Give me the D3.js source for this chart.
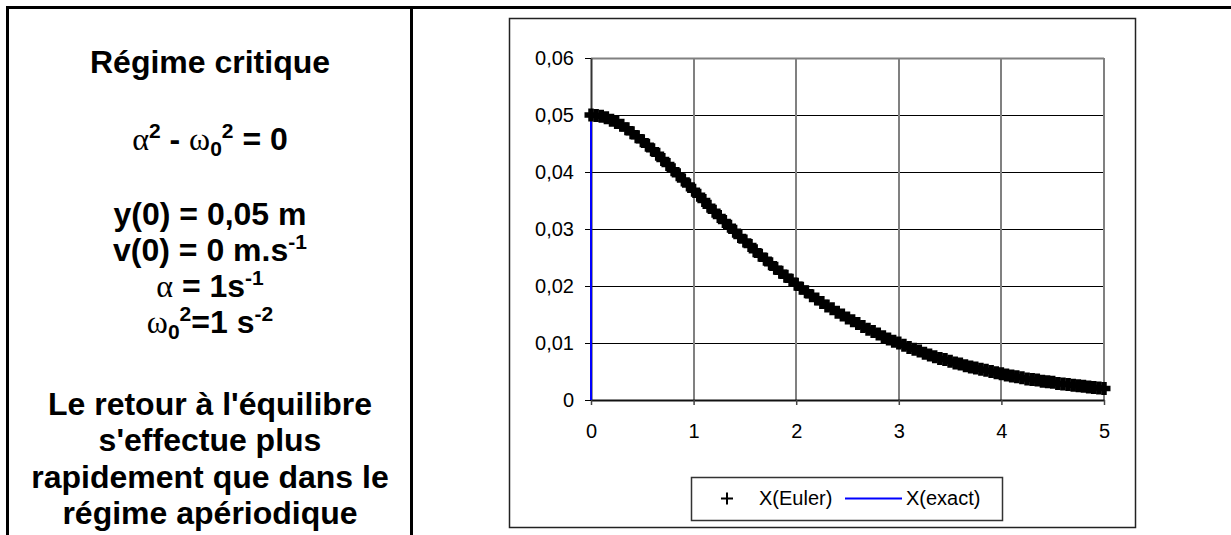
<!DOCTYPE html>
<html>
<head>
<meta charset="utf-8">
<script src="https://cdn.jsdelivr.net/npm/d3@7"></script>
<style>
  body { margin: 0; background: #fff; }
  svg { display: block; }
  text { white-space: pre; }
</style>
</head>
<body>
<div id="chart"></div>
<script>
// t (s) of the Euler points
var eulerTimes = [0, 0.05, 0.1, 0.15, 0.2, 0.25, 0.3, 0.35, 0.4, 0.45, 0.5, 0.55, 0.6, 0.65, 0.7, 0.75, 0.8, 0.85, 0.9, 0.95,
  1, 1.05, 1.1, 1.15, 1.2, 1.25, 1.3, 1.35, 1.4, 1.45, 1.5, 1.55, 1.6, 1.65, 1.7, 1.75, 1.8, 1.85, 1.9, 1.95,
  2, 2.05, 2.1, 2.15, 2.2, 2.25, 2.3, 2.35, 2.4, 2.45, 2.5, 2.55, 2.6, 2.65, 2.7, 2.75, 2.8, 2.85, 2.9, 2.95,
  3, 3.05, 3.1, 3.15, 3.2, 3.25, 3.3, 3.35, 3.4, 3.45, 3.5, 3.55, 3.6, 3.65, 3.7, 3.75, 3.8, 3.85, 3.9, 3.95,
  4, 4.05, 4.1, 4.15, 4.2, 4.25, 4.3, 4.35, 4.4, 4.45, 4.5, 4.55, 4.6, 4.65, 4.7, 4.75, 4.8, 4.85, 4.9, 4.95, 5];
// X(Euler) in m
var eulerValues = [0.0500, 0.0499, 0.0498, 0.0495, 0.0491, 0.0487, 0.0482, 0.0476, 0.0469, 0.0462,
  0.0455, 0.0447, 0.0439, 0.0431, 0.0422, 0.0413, 0.0404, 0.0395, 0.0386, 0.0377,
  0.0368, 0.0359, 0.0350, 0.0340, 0.0331, 0.0322, 0.0313, 0.0305, 0.0296, 0.0287,
  0.0279, 0.0271, 0.0262, 0.0254, 0.0247, 0.0239, 0.0231, 0.0224, 0.0217, 0.0210,
  0.0203, 0.0196, 0.0190, 0.0183, 0.0177, 0.0171, 0.0165, 0.0160, 0.0154, 0.0149,
  0.0144, 0.0139, 0.0134, 0.0129, 0.0124, 0.0120, 0.0116, 0.0111, 0.0107, 0.0103,
  0.0100, 0.0096, 0.0092, 0.0089, 0.0086, 0.0082, 0.0079, 0.0076, 0.0073, 0.0071,
  0.0068, 0.0065, 0.0063, 0.0060, 0.0058, 0.0056, 0.0054, 0.0052, 0.0050, 0.0048,
  0.0046, 0.0044, 0.0042, 0.0041, 0.0039, 0.0037, 0.0036, 0.0035, 0.0033, 0.0032,
  0.0031, 0.0029, 0.0028, 0.0027, 0.0026, 0.0025, 0.0024, 0.0023, 0.0022, 0.0021, 0.0020];

// X(exact) - starts from 0 at t=0 (vertical blue segment)
var exactTimes = [0, 0, 0.25, 0.5, 0.75, 1, 1.25, 1.5, 1.75, 2, 2.25, 2.5, 2.75, 3, 3.25, 3.5, 3.75, 4, 4.25, 4.5, 4.75, 5];
var exactValues = [0, 0.05, 0.0487, 0.0455, 0.0413, 0.0368, 0.0322, 0.0279, 0.0239, 0.0203, 0.0171,
  0.0144, 0.0120, 0.0100, 0.0082, 0.0068, 0.0056, 0.0046, 0.0037, 0.0031, 0.0025, 0.0020];

var xTicks = [0, 1, 2, 3, 4, 5];
var yTicks = [0, 0.01, 0.02, 0.03, 0.04, 0.05, 0.06];
var yTickLabels = ["0", "0,01", "0,02", "0,03", "0,04", "0,05", "0,06"];
var seriesNames = ["X(Euler)", "X(exact)"];

// left cell text, parts: g = greek (symbol font), sup / sub
var noteLines = [
  [{t: "Régime critique"}],
  [{t: "α", g: 1}, {t: "2", sup: 1}, {t: " - "}, {t: "ω", g: 1}, {t: "0", sub: 1}, {t: "2", sup: 1}, {t: " = 0"}],
  [{t: "y(0) = 0,05 m"}],
  [{t: "v(0) = 0 m.s"}, {t: "-1", sup: 1}],
  [{t: "α", g: 1}, {t: " = 1s"}, {t: "-1", sup: 1}],
  [{t: "ω", g: 1}, {t: "0", sub: 1}, {t: "2", sup: 1}, {t: "=1 s"}, {t: "-2", sup: 1}],
  [{t: "Le retour à l'équilibre"}],
  [{t: "s'effectue plus"}],
  [{t: "rapidement que dans le"}],
  [{t: "régime apériodique"}]
];
var noteBaselines = [73, 150, 225, 261, 297, 333, 415, 451, 488, 524];

function init() {
  var w = 1231;
  var h = 535;
  var sans = "'Liberation Sans', Arial, sans-serif";
  var serif = "'Liberation Serif', 'Times New Roman', serif";

  var svg = d3.select("#chart")
    .append("svg")
    .attr("width", w)
    .attr("height", h);

  // table frame
  svg.append("path")
    .attr("d", "M7.5,535 V7.5 H1231 M411.5,7.5 V535")
    .attr("fill", "none")
    .attr("stroke", "#000")
    .attr("stroke-width", 3);

  // left cell text
  var notes = svg.append("g");
  noteLines.forEach(function(parts, i) {
    var txt = notes.append("text")
      .attr("x", 210)
      .attr("y", noteBaselines[i])
      .attr("text-anchor", "middle")
      .attr("fill", "#000");
    var shift = 0;
    parts.forEach(function(p) {
      var target = p.sup ? -12 : (p.sub ? 6 : 0);
      txt.append("tspan")
        .attr("dy", target - shift)
        .attr("font-family", p.g ? serif : sans)
        .attr("font-weight", p.g ? "normal" : "bold")
        .attr("font-size", (p.sup || p.sub) ? 21 : 32)
        .text(p.t);
      shift = target;
    });
  });

  // chart frame
  svg.append("rect")
    .attr("x", 509.5)
    .attr("y", 18.5)
    .attr("width", 626)
    .attr("height", 509)
    .attr("fill", "#fff")
    .attr("stroke", "#222")
    .attr("stroke-width", 1.5);

  var xScale = d3.scaleLinear()
    .domain([0, 5])
    .range([591, 1104]);
  var yScale = d3.scaleLinear()
    .domain([0, 0.06])
    .range([400, 58]);

  // horizontal grid
  svg.append("g")
    .selectAll("line")
    .data(yTicks.slice(1))
    .enter()
    .append("line")
    .attr("x1", xScale(0))
    .attr("x2", xScale(5))
    .attr("y1", function(d) { return Math.round(yScale(d)) + 0.5; })
    .attr("y2", function(d) { return Math.round(yScale(d)) + 0.5; })
    .attr("stroke", function(d) { return d == 0.06 ? "#808080" : "#000"; })
    .attr("stroke-width", function(d) { return d == 0.06 ? 2 : 1; });

  // vertical grid
  svg.append("g")
    .selectAll("line")
    .data(xTicks.slice(1))
    .enter()
    .append("line")
    .attr("x1", function(d) { return Math.round(xScale(d)); })
    .attr("x2", function(d) { return Math.round(xScale(d)); })
    .attr("y1", yScale(0))
    .attr("y2", yScale(0.06))
    .attr("stroke", "#808080")
    .attr("stroke-width", 2);

  var xAxis = d3.axisBottom(xScale)
    .tickValues(xTicks)
    .tickFormat(d3.format("d"))
    .tickSizeInner(5)
    .tickSizeOuter(0)
    .tickPadding(19);
  var yAxis = d3.axisLeft(yScale)
    .tickValues(yTicks)
    .tickFormat(function(d, i) { return yTickLabels[i]; })
    .tickSizeInner(6)
    .tickSizeOuter(0)
    .tickPadding(11);

  var gx = svg.append("g")
    .attr("transform", "translate(0," + yScale(0) + ")")
    .call(xAxis);
  var gy = svg.append("g")
    .attr("transform", "translate(" + xScale(0) + ",0)")
    .call(yAxis);

  gx.select(".domain").attr("stroke", "#111").attr("stroke-width", 2);
  gy.select(".domain").attr("stroke", "#333").attr("stroke-width", 2);
  gx.selectAll(".tick line").attr("stroke", "#444").attr("stroke-width", 1.5);
  gy.selectAll(".tick line").attr("stroke", "#000");
  [gx, gy].forEach(function(g) {
    g.selectAll("text")
      .attr("font-family", sans)
      .attr("font-size", 20)
      .attr("fill", "#000");
  });

  // exact solution
  var exactLine = d3.line()
    .x(function(d, i) { return xScale(exactTimes[i]); })
    .y(function(d) { return yScale(d); });
  svg.append("path")
    .datum(exactValues)
    .attr("d", exactLine)
    .attr("fill", "none")
    .attr("stroke", "#0000ff")
    .attr("stroke-width", 2);

  // Euler markers
  var arm = 6.5;
  svg.append("g")
    .selectAll("path")
    .data(eulerValues)
    .enter()
    .append("path")
    .attr("d", function(d, i) {
      var cx = xScale(eulerTimes[i]);
      var cy = yScale(d);
      return "M" + (cx - arm) + "," + cy + "H" + (cx + arm) +
        "M" + cx + "," + (cy - arm) + "V" + (cy + arm);
    })
    .attr("stroke", "#000")
    .attr("stroke-width", 5.5)
    .attr("fill", "none");

  // legend
  var legend = svg.append("g");
  legend.append("rect")
    .attr("x", 691.5)
    .attr("y", 477.5)
    .attr("width", 311)
    .attr("height", 43)
    .attr("fill", "#fff")
    .attr("stroke", "#333")
    .attr("stroke-width", 1.5);
  legend.append("path")
    .attr("d", "M721,498.5H733M727,492.5V504.5")
    .attr("stroke", "#000")
    .attr("stroke-width", 2);
  legend.append("text")
    .attr("x", 759)
    .attr("y", 505)
    .attr("font-family", sans)
    .attr("font-size", 20)
    .text(seriesNames[0]);
  legend.append("line")
    .attr("x1", 845)
    .attr("x2", 902)
    .attr("y1", 498.5)
    .attr("y2", 498.5)
    .attr("stroke", "#0000ff")
    .attr("stroke-width", 2);
  legend.append("text")
    .attr("x", 906)
    .attr("y", 505)
    .attr("font-family", sans)
    .attr("font-size", 20)
    .text(seriesNames[1]);
}

window.onload = init;
</script>
</body>
</html>
